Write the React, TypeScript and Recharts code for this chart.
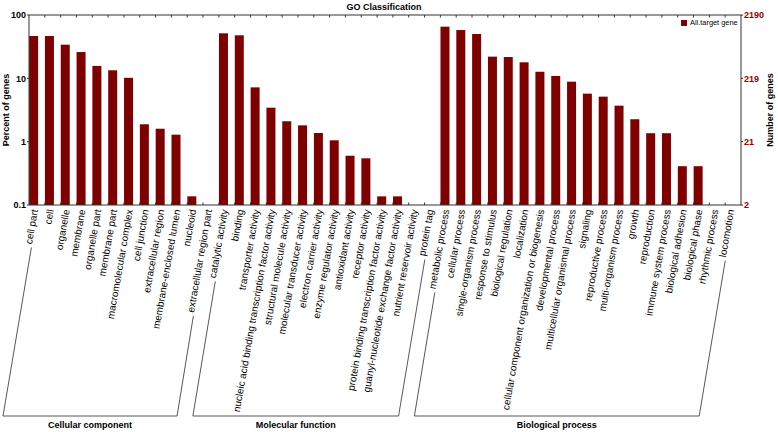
import React from "react";
import { BarChart, Bar, XAxis, YAxis, Legend, ReferenceLine } from "recharts";

// values are percent of the 2190 annotated genes, null = no visible bar
const cellularTerms = [
  "cell part", "cell", "organelle", "membrane", "organelle part", "membrane part",
  "macromolecular complex", "cell junction", "extracellular region",
  "membrane-enclosed lumen", "nucleoid", "extracellular region part",
];
const cellularPercent = [46.6, 46.6, 34, 26, 15.7, 13.4, 10.2, 1.88, 1.6, 1.29, 0.137, null];

const molecularTerms = [
  "catalytic activity", "binding", "transporter activity",
  "nucleic acid binding transcription factor activity", "structural molecule activity",
  "molecular transducer activity", "electron carrier activity", "enzyme regulator activity",
  "antioxidant activity", "receptor activity", "protein binding transcription factor activity",
  "guanyl-nucleotide exchange factor activity", "nutrient reservoir activity", "protein tag",
];
const molecularPercent = [51.4, 47.8, 7.2, 3.44, 2.1, 1.81, 1.37, 1.05, 0.6, 0.546, 0.137, 0.137, null, null];

const biologicalTerms = [
  "metabolic process", "cellular process", "single-organism process", "response to stimulus",
  "biological regulation", "localization", "cellular component organization or biogenesis",
  "developmental process", "multicellular organismal process", "signaling",
  "reproductive process", "multi-organism process", "growth", "reproduction",
  "immune system process", "biological adhesion", "biological phase", "rhythmic process",
  "locomotion",
];
const biologicalPercent = [65.4, 57.9, 50.1, 22.0, 21.7, 17.9, 12.7, 10.9, 8.85, 5.73, 5.14, 3.7, 2.26, 1.36, 1.36, 0.41, 0.41, null, null];

const groupTitles = ["Cellular component", "Molecular function", "Biological process"];
const percentTicks = [0.1, 1, 10, 100];
const TOTAL_GENES = 2190;

const terms = [...cellularTerms, ...molecularTerms, ...biologicalTerms];
const percents = [...cellularPercent, ...molecularPercent, ...biologicalPercent];
const data = terms.map((term, i) => ({ term, percent: percents[i] }));

const groupSizes = [cellularTerms.length, molecularTerms.length, biologicalTerms.length];
const groups = groupTitles.map((title, g) => {
  const start = groupSizes.slice(0, g).reduce((a, b) => a + b, 0);
  return { title, start, end: start + groupSizes[g] - 1 };
});

const W = 778;
const H = 432;
const PLOT_LEFT = 29;
const PLOT_RIGHT = 741;
const PLOT_TOP = 15;
const PLOT_BOTTOM = 205;
const STEP = (PLOT_RIGHT - PLOT_LEFT) / terms.length;
const BAR_SHIFT = -2.9;
const BAR_COLOR = "#7f0000";
const FONT = "'Liberation Sans', Arial, sans-serif";
const ANGLE = 80;
const BRACKET_Y = 416;

let ctx: CanvasRenderingContext2D | null = null;
function textWidth(s: string) {
  if (!ctx) ctx = document.createElement("canvas").getContext("2d");
  if (!ctx) return s.length * 5;
  ctx.font = `10px ${FONT}`;
  return ctx.measureText(s).width;
}

const ux = Math.cos((ANGLE * Math.PI) / 180);
const uy = Math.sin((ANGLE * Math.PI) / 180);

function CategoryTick(props: any) {
  const { x, payload } = props;
  const label = String(payload.value);
  const index = terms.indexOf(label);
  const center = x + BAR_SHIFT;
  const ax = center + 4;
  const ay = 210;
  const bandLeft = x - STEP / 2;
  const lineColor = "#444";

  const parts: React.ReactNode[] = [];
  if (index > 0) {
    parts.push(<line key="tt" x1={bandLeft} x2={bandLeft} y1={PLOT_TOP} y2={PLOT_TOP + 2.5} stroke="#333" />);
    parts.push(<line key="bt" x1={bandLeft} x2={bandLeft} y1={PLOT_BOTTOM} y2={PLOT_BOTTOM - 2.5} stroke="#333" />);
  }
  const L = textWidth(label) + 3;
  const sx = ax - ux * L;
  const sy = ay + uy * L;
  groups.forEach((g) => {
    if (index === g.start || index === g.end) {
      parts.push(
        <line key={"s" + g.title + index} x1={sx} y1={sy} x2={center - 31} y2={BRACKET_Y} stroke={lineColor} strokeWidth={0.9} />
      );
    }
    if (index === g.start) {
      const endCenter = center + (g.end - g.start) * STEP;
      parts.push(
        <line key={"h" + g.title} x1={center - 31} y1={BRACKET_Y} x2={endCenter - 31} y2={BRACKET_Y} stroke={lineColor} strokeWidth={0.9} />
      );
      parts.push(
        <text key={"t" + g.title} x={(center + endCenter) / 2 - 31} y={427.5} textAnchor="middle"
          fontFamily={FONT} fontSize={9} fontWeight="bold" fill="#000">{g.title}</text>
      );
    }
  });

  return (
    <g>
      {parts}
      <text x={ax} y={ay} transform={`rotate(${-ANGLE}, ${ax}, ${ay})`} textAnchor="end"
        fontFamily={FONT} fontSize={10} fill="#000">{label}</text>
    </g>
  );
}

const ShiftedBar = (props: any) => {
  const { x, y, width, height, fill } = props;
  if (![x, y, width, height].every((v) => Number.isFinite(v)) || height <= 0) return <g />;
  return <rect x={x + BAR_SHIFT} y={y} width={width} height={height} fill={fill} />;
};

const renderLegend = (props: any) => {
  const name = props.payload && props.payload[0] ? props.payload[0].value : "All.target gene";
  return (
    <div style={{ display: "flex", alignItems: "center", fontFamily: FONT, fontSize: 7.4, color: "#000", whiteSpace: "nowrap" }}>
      <span style={{ display: "inline-block", width: 6, height: 6, background: BAR_COLOR, marginRight: 3 }} />
      {name}
    </div>
  );
};

export default function App() {
  return (
    <div style={{ position: "absolute", left: 0, top: 0, width: W, height: H, background: "#fff" }}>
      <BarChart width={W} height={H} data={data} margin={{ top: PLOT_TOP, right: 0, bottom: 0, left: 0 }}>
        <XAxis dataKey="term" interval={0} height={H - PLOT_BOTTOM} tickLine={false}
          axisLine={{ stroke: "#333" }} tick={<CategoryTick />} />
        <YAxis yAxisId="left" scale="log" domain={[0.1, 100]} allowDataOverflow ticks={percentTicks}
          interval={0} width={PLOT_LEFT} tickSize={2} tickMargin={1}
          tickFormatter={(v: number) => String(v)}
          tick={{ fontFamily: FONT, fontSize: 9, fontWeight: "bold", fill: "#000" }}
          axisLine={{ stroke: "#333" }} tickLine={{ stroke: "#333" }} />
        <YAxis yAxisId="right" orientation="right" scale="log" domain={[0.1, 100]} allowDataOverflow
          ticks={percentTicks} interval={0} width={W - PLOT_RIGHT} tickSize={2} tickMargin={1}
          tickFormatter={(v: number) => String(Math.floor((TOTAL_GENES * v) / 100 + 1e-9))}
          tick={{ fontFamily: FONT, fontSize: 9, fontWeight: "bold", fill: "#9a0000" }}
          axisLine={{ stroke: "#333" }} tickLine={{ stroke: "#9a0000" }} />
        <ReferenceLine yAxisId="left" y={100} stroke="#333" />
        <Bar yAxisId="left" dataKey="percent" name="All.target gene" fill={BAR_COLOR} barSize={9}
          shape={ShiftedBar} isAnimationActive={false} />
        <Legend layout="vertical" align="center" verticalAlign="middle" content={renderLegend}
          wrapperStyle={{ left: 681, top: 18, width: 70, height: 10 }} />
        <text x={384} y={9.5} textAnchor="middle" fontFamily={FONT} fontSize={9} fontWeight="bold" fill="#000">
          GO Classification
        </text>
        <text transform="translate(8.5, 110) rotate(-90)" textAnchor="middle" fontFamily={FONT}
          fontSize={9} fontWeight="bold" fill="#000">Percent of genes</text>
        <text transform="translate(773, 110) rotate(-90)" textAnchor="middle" fontFamily={FONT}
          fontSize={9} fontWeight="bold" fill="#000">Number of genes</text>
      </BarChart>
    </div>
  );
}
